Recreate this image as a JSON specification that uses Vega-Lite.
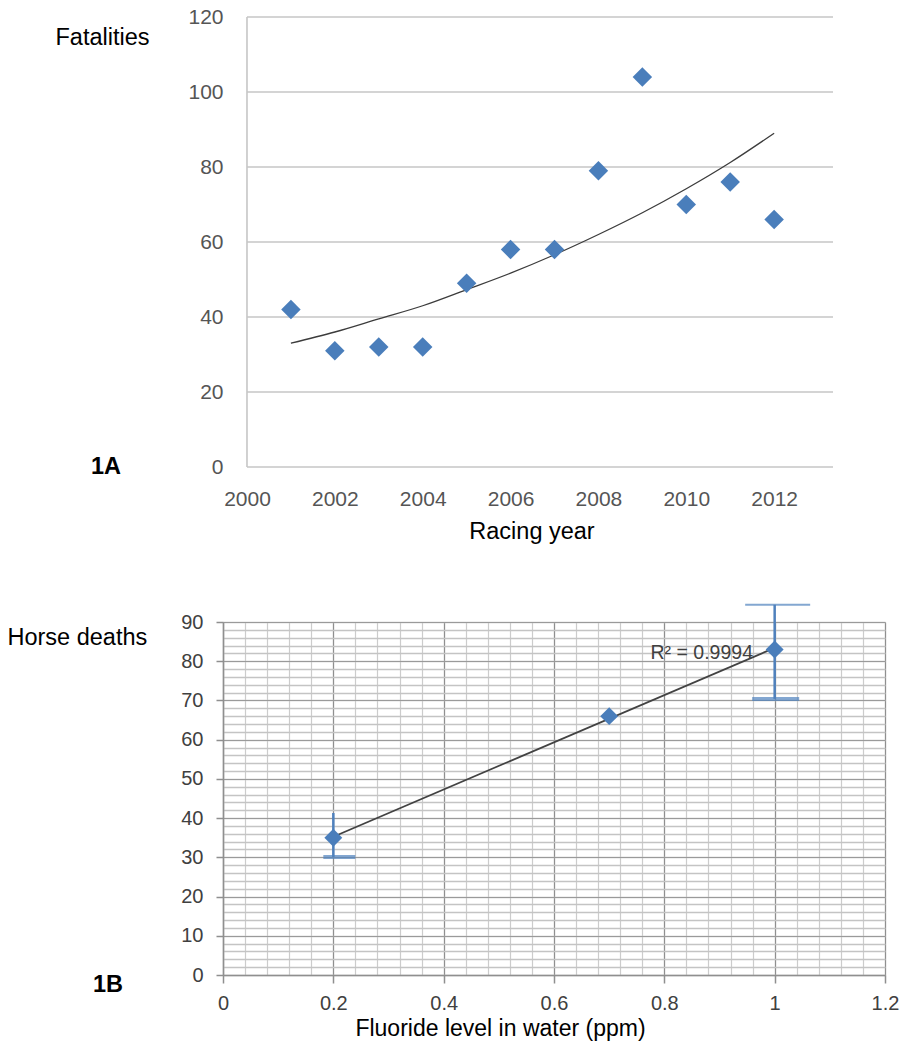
{
  "$schema": "https://vega.github.io/schema/vega-lite/v6.json",
  "background": "white",
  "padding": {"left": 7, "top": 6, "right": 3, "bottom": 3},
  "config": {"view": {"stroke": null}, "font": "Liberation Sans"},
  "datasets": {
    "fatalities": [
      {"year": 2001, "fatalities": 42}, {"year": 2002, "fatalities": 31}, {"year": 2003, "fatalities": 32},
      {"year": 2004, "fatalities": 32}, {"year": 2005, "fatalities": 49}, {"year": 2006, "fatalities": 58},
      {"year": 2007, "fatalities": 58}, {"year": 2008, "fatalities": 79}, {"year": 2009, "fatalities": 104},
      {"year": 2010, "fatalities": 70}, {"year": 2011, "fatalities": 76}, {"year": 2012, "fatalities": 66}
    ],
    "trend": [
      {"year": 2001, "fit": 33}, {"year": 2002, "fit": 36}, {"year": 2003, "fit": 39.5},
      {"year": 2004, "fit": 43}, {"year": 2005, "fit": 47.3}, {"year": 2006, "fit": 51.7},
      {"year": 2007, "fit": 56.6}, {"year": 2008, "fit": 62}, {"year": 2009, "fit": 67.8},
      {"year": 2010, "fit": 74.2}, {"year": 2011, "fit": 81.2}, {"year": 2012, "fit": 89}
    ],
    "ygrid": [{"v": 0}, {"v": 20}, {"v": 40}, {"v": 60}, {"v": 80}, {"v": 100}, {"v": 120}],
    "fluoride": [
      {"fluoride": 0.2, "deaths": 35}, {"fluoride": 0.7, "deaths": 66}, {"fluoride": 1.0, "deaths": 83}
    ],
    "errors": [
      {"fluoride": 0.2, "low": 30.1, "high": 41.3},
      {"fluoride": 1.0, "low": 70.4, "high": 94.4}
    ]
  },
  "bounds": "flush",
  "spacing": 155,
  "vconcat": [
    {
      "width": 610,
      "height": 450,
      "resolve": {"axis": {"x": "independent", "y": "independent"}},
      "layer": [
        {
          "data": {"name": "fatalities"},
          "mark": {"type": "point", "shape": "diamond", "filled": true, "size": 380, "color": "#4a7ebb", "opacity": 0},
          "encoding": {
            "x": {
              "field": "year", "type": "quantitative",
              "scale": {"domain": [1999.454, 2013.34], "nice": false, "zero": false},
              "axis": {
                "orient": "bottom",
                "title": "Racing year", "values": [2000, 2002, 2004, 2006, 2008, 2010, 2012], "format": "d",
                "grid": false, "domain": false, "ticks": false, "tickSize": 0, "labelPadding": 21,
                "labelFontSize": 21, "labelColor": "#555555", "labelFlush": false, "labelOverlap": false,
                "titleFontSize": 23.5, "titleFontWeight": "normal", "titleColor": "#000000",
                "titleX": 308.5, "titleY": 64, "titleAlign": "center", "titleBaseline": "middle"
              }
            },
            "y": {
              "field": "fatalities", "type": "quantitative",
              "scale": {"domain": [0, 120], "nice": false, "zero": false},
              "axis": {
                "orient": "left",
                "title": "Fatalities", "values": [0, 20, 40, 60, 80, 100, 120],
                "grid": false, "domain": false, "ticks": false, "tickSize": 0, "labelPadding": 0,
                "labelFontSize": 21, "labelColor": "#555555", "labelFlush": false, "labelOverlap": false,
                "titleFontSize": 23.5, "titleFontWeight": "normal", "titleColor": "#000000",
                "titleAngle": 0, "titleAlign": "left", "titleBaseline": "middle", "titleX": -168, "titleY": 20
              }
            }
          }
        },
        {
          "data": {"name": "ygrid"},
          "mark": {"type": "rule", "color": "#c6c6c6", "strokeWidth": 1.6},
          "encoding": {
            "y": {"field": "v", "type": "quantitative", "scale": {"domain": [0, 120], "nice": false, "zero": false}, "axis": null},
            "x": {"datum": 2000, "type": "quantitative", "scale": {"domain": [1999.454, 2013.34], "nice": false, "zero": false}, "axis": null},
            "x2": {"datum": 2013.34}
          }
        },
        {
          "data": {"values": [{"label": "axis"}]},
          "mark": {"type": "rule", "color": "#c6c6c6", "strokeWidth": 1.6},
          "encoding": {
            "x": {"datum": 2000, "type": "quantitative", "scale": {"domain": [1999.454, 2013.34], "nice": false, "zero": false}, "axis": null},
            "y": {"datum": 0, "type": "quantitative", "scale": {"domain": [0, 120], "nice": false, "zero": false}, "axis": null},
            "y2": {"datum": 120}
          }
        },
        {
          "data": {"name": "trend"},
          "mark": {"type": "line", "color": "#3c3c3c", "strokeWidth": 1.3, "interpolate": "monotone"},
          "encoding": {
            "x": {"field": "year", "type": "quantitative", "scale": {"domain": [1999.454, 2013.34], "nice": false, "zero": false}, "axis": null},
            "y": {"field": "fit", "type": "quantitative", "scale": {"domain": [0, 120], "nice": false, "zero": false}, "axis": null}
          }
        },
        {
          "data": {"name": "fatalities"},
          "mark": {"type": "point", "shape": "diamond", "filled": true, "size": 380, "color": "#4a7ebb", "opacity": 1},
          "encoding": {
            "x": {"field": "year", "type": "quantitative", "scale": {"domain": [1999.454, 2013.34], "nice": false, "zero": false}, "axis": null},
            "y": {"field": "fatalities", "type": "quantitative", "scale": {"domain": [0, 120], "nice": false, "zero": false}, "axis": null}
          }
        },
        {
          "data": {"values": [{"label": "1A"}]},
          "mark": {"type": "text", "fontWeight": "bold", "fontSize": 23.5, "color": "#000000"},
          "encoding": {
            "x": {"datum": 1996.79, "type": "quantitative", "scale": {"domain": [1999.454, 2013.34], "nice": false, "zero": false}, "axis": null},
            "y": {"datum": 0, "type": "quantitative", "scale": {"domain": [0, 120], "nice": false, "zero": false}, "axis": null},
            "text": {"field": "label"}
          }
        }
      ]
    },
    {
      "width": 662,
      "height": 353,
      "resolve": {"axis": {"x": "independent", "y": "independent"}},
      "layer": [
        {
          "data": {"name": "errors"},
          "mark": {"type": "rule", "color": "#4f81bd", "strokeWidth": 2.5},
          "encoding": {
            "x": {
              "field": "fluoride", "type": "quantitative",
              "scale": {"domain": [0, 1.2], "nice": false, "zero": false},
              "axis": {
                "orient": "bottom", "title": null,
                "values": [0, 0.04, 0.08, 0.12, 0.16, 0.2, 0.24, 0.28, 0.32, 0.36, 0.4, 0.44, 0.48, 0.52, 0.56, 0.6, 0.64, 0.68, 0.72, 0.76, 0.8, 0.84, 0.88, 0.92, 0.96, 1, 1.04, 1.08, 1.12, 1.16, 1.2],
                "grid": true, "gridColor": "#cccccc", "gridWidth": 1.2, "labels": false, "ticks": false, "domain": false
              }
            },
            "y": {
              "field": "low", "type": "quantitative",
              "scale": {"domain": [0, 90], "nice": false, "zero": false},
              "axis": {
                "orient": "left", "title": null,
                "values": [0, 2, 4, 6, 8, 10, 12, 14, 16, 18, 20, 22, 24, 26, 28, 30, 32, 34, 36, 38, 40, 42, 44, 46, 48, 50, 52, 54, 56, 58, 60, 62, 64, 66, 68, 70, 72, 74, 76, 78, 80, 82, 84, 86, 88, 90],
                "grid": true, "gridColor": "#c4c4c4", "gridWidth": 1.4, "labels": false, "ticks": false, "domain": false
              }
            },
            "y2": {"field": "high"}
          }
        },
        {
          "data": {"name": "fluoride"},
          "transform": [{"regression": "deaths", "on": "fluoride"}],
          "mark": {"type": "line", "color": "#424242", "strokeWidth": 1.8},
          "encoding": {
            "x": {"field": "fluoride", "type": "quantitative", "scale": {"domain": [0, 1.2], "nice": false, "zero": false}, "axis": null},
            "y": {"field": "deaths", "type": "quantitative", "scale": {"domain": [0, 90], "nice": false, "zero": false}, "axis": null}
          }
        },
        {
          "data": {"name": "fluoride"},
          "mark": {"type": "point", "shape": "diamond", "filled": true, "size": 320, "color": "#4a7ebb", "opacity": 1},
          "encoding": {
            "x": {
              "field": "fluoride", "type": "quantitative",
              "scale": {"domain": [0, 1.2], "nice": false, "zero": false},
              "axis": {
                "orient": "bottom", "title": "Fluoride level in water (ppm)",
                "values": [0, 0.2, 0.4, 0.6, 0.8, 1, 1.2], "format": ".2~f",
                "grid": true, "gridColor": "#8f8f8f", "gridWidth": 1.2,
                "domain": true, "domainColor": "#8f8f8f", "domainWidth": 1.5,
                "ticks": true, "tickColor": "#8f8f8f", "tickSize": 8, "tickWidth": 1.5,
                "labelPadding": 10, "labelFontSize": 20, "labelColor": "#404040", "labelFlush": false, "labelOverlap": false,
                "titleFontSize": 23, "titleFontWeight": "normal", "titleColor": "#000000",
                "titleX": 277, "titleY": 53, "titleAlign": "center", "titleBaseline": "middle"
              }
            },
            "y": {
              "field": "deaths", "type": "quantitative",
              "scale": {"domain": [0, 90], "nice": false, "zero": false},
              "axis": {
                "orient": "left", "title": "Horse deaths",
                "values": [0, 10, 20, 30, 40, 50, 60, 70, 80, 90],
                "grid": true, "gridColor": "#9a9a9a", "gridWidth": 1.2,
                "domain": true, "domainColor": "#8f8f8f", "domainWidth": 1.5,
                "ticks": true, "tickColor": "#8f8f8f", "tickSize": 7, "tickWidth": 1.5,
                "labelPadding": 13, "labelFontSize": 20, "labelColor": "#404040", "labelFlush": false, "labelOverlap": false,
                "titleFontSize": 23.5, "titleFontWeight": "normal", "titleColor": "#000000",
                "titleAngle": 0, "titleAlign": "left", "titleBaseline": "middle", "titleX": -216, "titleY": 15.5
              }
            }
          }
        },
        {
          "data": {"name": "errors"},
          "transform": [{"filter": "datum.fluoride < 0.5"}],
          "mark": {"type": "tick", "orient": "horizontal", "color": "#4f81bd", "size": 32, "thickness": 4, "xOffset": 6},
          "encoding": {
            "x": {"field": "fluoride", "type": "quantitative", "scale": {"domain": [0, 1.2], "nice": false, "zero": false}, "axis": null},
            "y": {"field": "low", "type": "quantitative", "scale": {"domain": [0, 90], "nice": false, "zero": false}, "axis": null}
          }
        },
        {
          "data": {"name": "errors"},
          "transform": [{"filter": "datum.fluoride > 0.5"}],
          "mark": {"type": "tick", "orient": "horizontal", "color": "#4f81bd", "size": 47, "thickness": 4, "xOffset": 1},
          "encoding": {
            "x": {"field": "fluoride", "type": "quantitative", "scale": {"domain": [0, 1.2], "nice": false, "zero": false}, "axis": null},
            "y": {"field": "low", "type": "quantitative", "scale": {"domain": [0, 90], "nice": false, "zero": false}, "axis": null}
          }
        },
        {
          "data": {"name": "errors"},
          "transform": [{"filter": "datum.fluoride > 0.5"}],
          "mark": {"type": "tick", "orient": "horizontal", "color": "#4f81bd", "size": 65, "thickness": 2, "xOffset": 3},
          "encoding": {
            "x": {"field": "fluoride", "type": "quantitative", "scale": {"domain": [0, 1.2], "nice": false, "zero": false}, "axis": null},
            "y": {"field": "high", "type": "quantitative", "scale": {"domain": [0, 90], "nice": false, "zero": false}, "axis": null}
          }
        },
        {
          "data": {"values": [{"label": "R² = 0.9994"}]},
          "mark": {"type": "text", "align": "right", "baseline": "middle", "fontSize": 19.5, "color": "#404040"},
          "encoding": {
            "x": {"datum": 0.9607, "type": "quantitative", "scale": {"domain": [0, 1.2], "nice": false, "zero": false}, "axis": null},
            "y": {"datum": 82.1, "type": "quantitative", "scale": {"domain": [0, 90], "nice": false, "zero": false}, "axis": null},
            "text": {"field": "label"}
          }
        },
        {
          "data": {"values": [{"label": "1B"}]},
          "mark": {"type": "text", "fontWeight": "bold", "fontSize": 23.5, "color": "#000000"},
          "encoding": {
            "x": {"datum": -0.2084, "type": "quantitative", "scale": {"domain": [0, 1.2], "nice": false, "zero": false}, "axis": null},
            "y": {"datum": -2.55, "type": "quantitative", "scale": {"domain": [0, 90], "nice": false, "zero": false}, "axis": null},
            "text": {"field": "label"}
          }
        }
      ]
    }
  ]
}
